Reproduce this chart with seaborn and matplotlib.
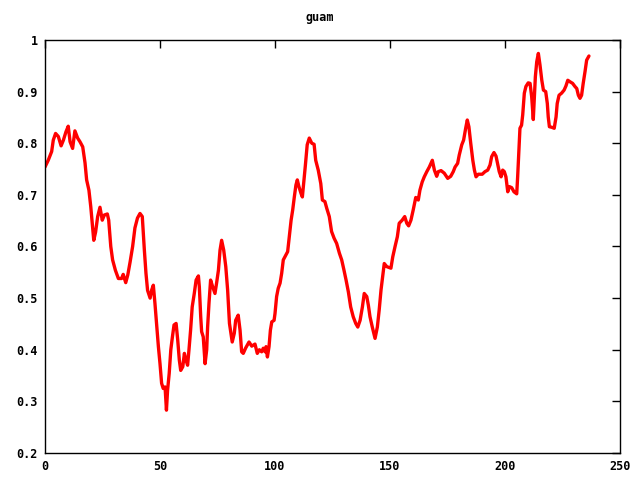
import matplotlib
matplotlib.use("Agg")
import matplotlib.pyplot as plt
import seaborn as sns
import pandas as pd

title = "guam"

x_vals = [0, 1.4, 2.9, 3.6, 4.6, 5.8, 7.0, 8.0, 9.1, 10.1, 10.9, 12.0, 13.0, 14.2, 15.2, 16.4, 17.4, 18.1, 19.1, 19.9,
          20.6, 21.2, 22.0, 22.9, 23.9, 24.9, 25.8, 27.1, 27.7, 28.6, 29.4, 30.6, 31.9, 33.3, 34.0, 35.1, 36.0, 37.0, 38.1, 39.1,
          40.2, 41.3, 42.3, 43.2, 43.9, 44.6, 45.7, 46.4, 47.1, 47.8, 48.6, 49.3, 50.0, 50.7, 51.4, 52.2, 52.8, 53.3, 54.0, 54.7,
          55.4, 56.1, 57.0, 57.7, 58.4, 59.0, 59.9, 60.6, 61.3, 62.0, 62.6, 63.3, 64.0, 64.9, 65.7, 66.7, 67.1, 67.7, 68.1, 68.8,
          69.6, 70.3, 70.7, 71.3, 72.0, 72.9, 73.9, 74.6, 75.4, 76.1, 76.8, 77.7, 78.6, 79.4, 80.2, 81.4, 82.3, 82.9, 84.0, 84.8,
          85.5, 86.2, 87.2, 88.7, 89.9, 91.3, 92.3, 93.2, 94.2, 94.9, 95.7, 96.1, 96.7, 97.4, 98.0, 98.6, 99.6, 100.0, 100.7, 101.4,
          102.2, 102.9, 103.6, 104.3, 105.5, 106.2, 107.0, 107.7, 108.4, 109.1, 109.7, 110.4, 111.3, 111.9, 112.4, 113.2, 114.0, 114.9, 116.0, 117.0,
          117.7, 118.8, 119.9, 120.6, 121.7, 122.5, 123.6, 124.6, 125.7, 126.8, 128.0, 129.0, 130.0, 130.9, 131.9, 132.9, 134.0, 135.1, 136.0, 137.0,
          138.0, 138.8, 139.9, 140.6, 141.3, 142.3, 143.5, 144.5, 145.3, 146.1, 146.8, 147.5, 148.6, 150.4, 151.2, 152.2, 153.2, 154.0, 155.3, 156.4,
          157.3, 158.1, 159.1, 160.1, 161.2, 162.3, 163.0, 164.0, 164.9, 166.0, 167.1, 168.4, 169.3, 170.3, 171.0, 172.2, 173.6, 175.1, 176.4, 177.5,
          178.3, 179.4, 180.1, 181.2, 182.0, 182.9, 183.6, 184.3, 185.1, 186.0, 186.7, 187.4, 188.4, 190.1, 191.3, 192.5, 193.5, 194.2, 195.2, 196.1,
          196.8, 197.5, 198.3, 199.0, 199.7, 200.4, 201.2, 201.9, 202.9, 203.9, 205.1, 205.5, 206.1, 206.5, 207.2, 207.7, 208.4, 209.1, 210.1, 210.9,
          211.6, 212.3, 212.7, 213.2, 213.8, 214.5, 215.2, 216.0, 216.7, 217.7, 218.4, 218.8, 219.3, 220.3, 221.4, 222.2, 222.7, 223.5, 224.6, 225.7,
          226.5, 227.3, 228.3, 229.4, 230.4, 231.2, 231.9, 232.6, 233.3, 234.0, 234.8, 235.5, 236.5]

y_vals = [0.754, 0.767, 0.784, 0.806, 0.819, 0.813, 0.795, 0.806, 0.822, 0.833, 0.803, 0.790, 0.824, 0.810, 0.803, 0.793, 0.762, 0.729, 0.709, 0.677,
          0.641, 0.612, 0.628, 0.658, 0.676, 0.651, 0.661, 0.663, 0.651, 0.600, 0.574, 0.554, 0.538, 0.538, 0.546, 0.530, 0.545, 0.570, 0.600, 0.636,
          0.655, 0.664, 0.658, 0.593, 0.548, 0.515, 0.500, 0.516, 0.525, 0.490, 0.444, 0.406, 0.373, 0.335, 0.325, 0.328, 0.283, 0.322, 0.354, 0.400,
          0.425, 0.448, 0.451, 0.419, 0.380, 0.360, 0.367, 0.393, 0.380, 0.370, 0.400, 0.438, 0.483, 0.509, 0.535, 0.543, 0.522, 0.464, 0.435, 0.425,
          0.373, 0.400, 0.444, 0.490, 0.535, 0.522, 0.509, 0.529, 0.554, 0.593, 0.612, 0.593, 0.561, 0.516, 0.451, 0.415, 0.432, 0.457, 0.467, 0.438,
          0.396, 0.393, 0.403, 0.415, 0.407, 0.411, 0.393, 0.400, 0.396, 0.403, 0.396, 0.406, 0.386, 0.406, 0.438, 0.454, 0.457, 0.470, 0.503, 0.519,
          0.529, 0.548, 0.574, 0.580, 0.590, 0.619, 0.651, 0.671, 0.696, 0.719, 0.729, 0.716, 0.703, 0.696, 0.719, 0.757, 0.797, 0.810, 0.800, 0.798,
          0.767, 0.748, 0.722, 0.690, 0.687, 0.674, 0.658, 0.629, 0.616, 0.606, 0.587, 0.574, 0.554, 0.535, 0.512, 0.483, 0.464, 0.451, 0.444, 0.457,
          0.483, 0.509, 0.503, 0.486, 0.464, 0.444, 0.422, 0.444, 0.477, 0.516, 0.541, 0.567, 0.561, 0.558, 0.580, 0.600, 0.619, 0.645, 0.651, 0.658,
          0.645, 0.640, 0.651, 0.671, 0.695, 0.690, 0.709, 0.725, 0.735, 0.745, 0.754, 0.767, 0.748, 0.736, 0.745, 0.747, 0.742, 0.732, 0.736, 0.745,
          0.754, 0.761, 0.777, 0.797, 0.806, 0.829, 0.845, 0.832, 0.800, 0.767, 0.748, 0.735, 0.740, 0.740, 0.745, 0.748, 0.758, 0.774, 0.782, 0.775,
          0.760, 0.745, 0.735, 0.748, 0.745, 0.735, 0.706, 0.716, 0.714, 0.706, 0.702, 0.735, 0.793, 0.829, 0.835, 0.855, 0.897, 0.910, 0.917, 0.916,
          0.890, 0.846, 0.884, 0.929, 0.958, 0.974, 0.952, 0.922, 0.903, 0.900, 0.877, 0.851, 0.832, 0.831, 0.829, 0.851, 0.877, 0.893, 0.897, 0.903,
          0.911, 0.922, 0.919, 0.916, 0.910, 0.906, 0.893, 0.887, 0.893, 0.916, 0.939, 0.961, 0.969]

x_ticks = [0, 50, 100, 150, 200, 250]
y_ticks = [0.2, 0.3, 0.4, 0.5, 0.6, 0.7, 0.8, 0.9, 1.0]
y_tick_labels = ["0.2", "0.3", "0.4", "0.5", "0.6", "0.7", "0.8", "0.9", "1"]

df = pd.DataFrame({"x": x_vals, "y": y_vals})

sns.set_style("white")
plt.rcParams["font.family"] = ["DejaVu Sans Mono", "DejaVu Sans"]

fig = plt.figure(figsize=(6.4, 4.8), dpi=100)
ax = fig.add_axes([45 / 640, 27 / 480, 575 / 640, 413 / 480])

sns.lineplot(data=df, x="x", y="y", ax=ax, color="#ff0000", linewidth=2.4,
             sort=False, estimator=None)

ax.set_xlim(0, 250)
ax.set_ylim(0.2, 1.0)
ax.set_xticks(x_ticks)
ax.set_xticklabels([str(t) for t in x_ticks])
ax.set_yticks(y_ticks)
ax.set_yticklabels(y_tick_labels)
ax.set_xlabel("")
ax.set_ylabel("")

for sp in ax.spines.values():
    sp.set_visible(True)
    sp.set_color("black")
    sp.set_linewidth(1.0)

ax.tick_params(axis="both", direction="in", length=6, width=1, color="black",
               top=True, right=True, labelsize=8.5, labelcolor="black", pad=5)
for lab in ax.get_xticklabels() + ax.get_yticklabels():
    lab.set_fontweight("bold")

fig.text(0.5, 1 - 18 / 480, title, ha="center", va="center",
         fontsize=8.5, fontweight="bold", color="black")

fig.savefig("out.png", dpi=100)
